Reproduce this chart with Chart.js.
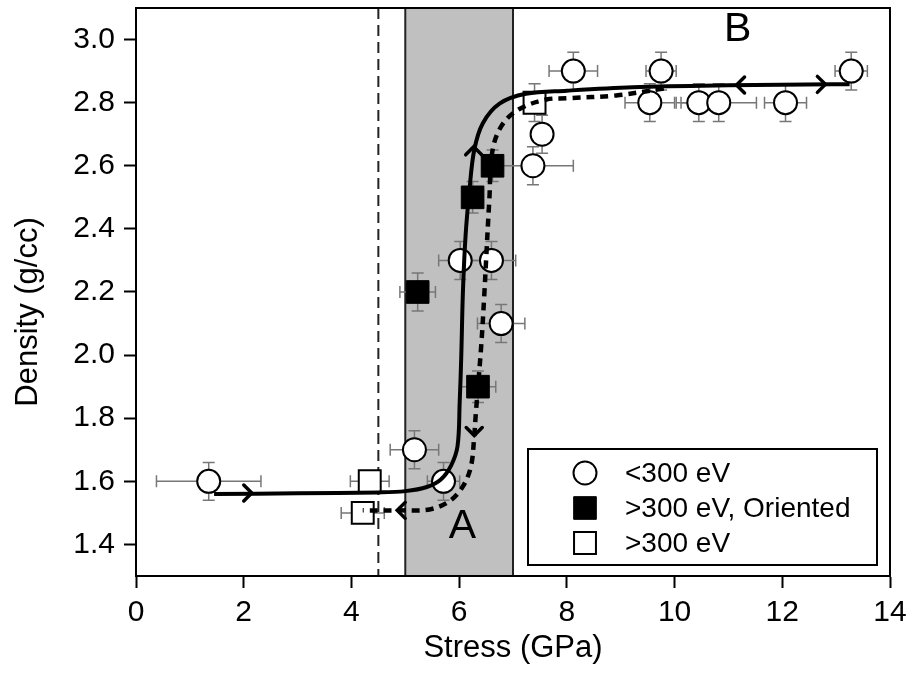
<!DOCTYPE html>
<html>
<head>
<meta charset="utf-8">
<script src="https://cdn.jsdelivr.net/npm/chart.js@4.4.1/dist/chart.umd.min.js"></script>
<style>
  html, body { margin: 0; padding: 0; background: #fff; }
  #wrap { width: 911px; height: 677px; }
</style>
</head>
<body>
<div id="wrap"><canvas id="chart"></canvas></div>
<script>
const xTicks = [0, 2, 4, 6, 8, 10, 12, 14];
const yTicks = [1.4, 1.6, 1.8, 2.0, 2.2, 2.4, 2.6, 2.8, 3.0];

// <300 eV
const lowX    = [1.35, 5.17, 5.71, 6.02, 6.60, 6.78, 7.37, 7.54, 8.12, 9.54, 9.75, 10.45, 10.82, 12.06, 13.28];
const lowY    = [1.60, 1.70, 1.60, 2.30, 2.30, 2.10, 2.60, 2.70, 2.90, 2.80, 2.90, 2.80, 2.80, 2.80, 2.90];
const lowXErr = [0.97, 0.45, 0.30, 0.40, 0.45, 0.44, 0.75, 0.10, 0.45, 0.46, 0.28, 0.42, 0.70, 0.39, 0.30];
const lowYErr = [0.06, 0.06, 0.06, 0.06, 0.06, 0.06, 0.06, 0.06, 0.06, 0.06, 0.06, 0.06, 0.06, 0.06, 0.06];

// >300 eV, oriented
const oriX    = [5.23, 6.25, 6.62, 6.35];
const oriY    = [2.20, 2.50, 2.60, 1.90];
const oriXErr = [0.33, 0.15, 0.20, 0.33];
const oriYErr = [0.06, 0.05, 0.05, 0.05];

// >300 eV
const highX    = [4.21, 4.34, 7.40];
const highY    = [1.50, 1.60, 2.80];
const highXErr = [0.40, 0.36, 0.20];
const highYErr = [0.00, 0.00, 0.06];

// loading path (solid)
const loadX = [1.45, 3.0, 4.5, 5.0, 5.4, 5.66, 5.85, 5.97, 6.01, 6.04, 6.07, 6.12, 6.19, 6.28, 6.44, 6.75, 7.24, 8.0, 9.22, 11.0, 12.94, 13.25];
const loadY = [1.560, 1.562, 1.565, 1.569, 1.582, 1.606, 1.65, 1.711, 1.85, 2.0, 2.2, 2.38, 2.52, 2.65, 2.735, 2.797, 2.828, 2.838, 2.849, 2.855, 2.858, 2.858];

// unloading path (dashed)
const unloadX = [9.8, 8.92, 7.99, 7.62, 7.12, 6.80, 6.62, 6.56, 6.50, 6.47, 6.41, 6.31, 6.28, 6.22, 6.07, 5.82, 5.45, 4.83, 4.21];
const unloadY = [2.845, 2.823, 2.814, 2.81, 2.78, 2.73, 2.649, 2.49, 2.30, 2.20, 2.03, 1.816, 1.743, 1.648, 1.584, 1.537, 1.511, 1.508, 1.508];

// direction arrows along the paths
const arrowX   = [2.15, 6.27, 12.8, 11.15, 6.28, 4.85];
const arrowY   = [1.563, 2.66, 2.858, 2.856, 1.745, 1.508];
const arrowDir = ['right', 'up', 'right', 'left', 'down', 'left'];

const bandFrom = 5, bandTo = 7, guideX = 4.5;
const FONT = '"Liberation Sans", Arial, Helvetica, sans-serif';

const pts = (xs, ys) => xs.map((x, i) => ({ x, y: ys[i] }));

const decor = {
  id: 'decor',
  beforeDatasetsDraw(chart) {
    const { ctx, chartArea: a, scales: { x, y } } = chart;
    ctx.save();
    // shaded transition band
    const b0 = x.getPixelForValue(bandFrom), b1 = x.getPixelForValue(bandTo);
    ctx.fillStyle = '#c0c0c0';
    ctx.fillRect(b0, a.top, b1 - b0, a.bottom - a.top);
    ctx.strokeStyle = '#222';
    ctx.lineWidth = 2;
    ctx.strokeRect(b0, a.top, b1 - b0, a.bottom - a.top);
    // dashed guide
    const gx = x.getPixelForValue(guideX);
    ctx.setLineDash([11, 6]);
    ctx.beginPath(); ctx.moveTo(gx, a.top); ctx.lineTo(gx, a.bottom); ctx.stroke();
    ctx.setLineDash([]);
    // error bars
    ctx.strokeStyle = '#777';
    ctx.lineWidth = 1.5;
    const cap = 6;
    chart.data.datasets.forEach(ds => {
      if (!ds.xErr) return;
      ds.data.forEach((p, i) => {
        const px = x.getPixelForValue(p.x), py = y.getPixelForValue(p.y);
        const ex = ds.xErr[i], ey = ds.yErr[i];
        if (ex > 0) {
          const l = x.getPixelForValue(p.x - ex), r = x.getPixelForValue(p.x + ex);
          ctx.beginPath();
          ctx.moveTo(l, py); ctx.lineTo(r, py);
          ctx.moveTo(l, py - cap); ctx.lineTo(l, py + cap);
          ctx.moveTo(r, py - cap); ctx.lineTo(r, py + cap);
          ctx.stroke();
        }
        if (ey > 0) {
          const t = y.getPixelForValue(p.y + ey), bt = y.getPixelForValue(p.y - ey);
          ctx.beginPath();
          ctx.moveTo(px, t); ctx.lineTo(px, bt);
          ctx.moveTo(px - cap, t); ctx.lineTo(px + cap, t);
          ctx.moveTo(px - cap, bt); ctx.lineTo(px + cap, bt);
          ctx.stroke();
        }
      });
    });
    ctx.restore();
  },
  afterDatasetsDraw(chart) {
    const { ctx, chartArea: a, scales: { x, y } } = chart;
    ctx.save();
    // arrow heads
    ctx.strokeStyle = '#000';
    ctx.lineWidth = 3.5;
    ctx.lineCap = 'round';
    const s = 8;
    arrowX.forEach((ax, i) => {
      const px = x.getPixelForValue(ax), py = y.getPixelForValue(arrowY[i]);
      ctx.beginPath();
      switch (arrowDir[i]) {
        case 'right': ctx.moveTo(px - s, py - s); ctx.lineTo(px, py); ctx.lineTo(px - s, py + s); break;
        case 'left':  ctx.moveTo(px + s, py - s); ctx.lineTo(px, py); ctx.lineTo(px + s, py + s); break;
        case 'up':    ctx.moveTo(px - s, py + s); ctx.lineTo(px, py); ctx.lineTo(px + s, py + s); break;
        case 'down':  ctx.moveTo(px - s, py - s); ctx.lineTo(px, py); ctx.lineTo(px + s, py - s); break;
      }
      ctx.stroke();
    });
    // region labels
    ctx.fillStyle = '#000';
    ctx.font = `41px ${FONT}`;
    ctx.textAlign = 'center';
    ctx.textBaseline = 'middle';
    ctx.fillText('A', x.getPixelForValue(6.06), y.getPixelForValue(1.455));
    ctx.fillText('B', x.getPixelForValue(11.17), y.getPixelForValue(3.03));
    // frame
    ctx.strokeStyle = '#000';
    ctx.lineWidth = 2;
    ctx.strokeRect(a.left, a.top, a.right - a.left, a.bottom - a.top);
    ctx.restore();
  },
  afterDraw(chart) {
    const { ctx, chartArea: a } = chart;
    ctx.save();
    // axis titles
    ctx.fillStyle = '#000';
    ctx.font = `31px ${FONT}`;
    ctx.textAlign = 'center';
    ctx.textBaseline = 'middle';
    ctx.fillText('Stress (GPa)', (a.left + a.right) / 2, 648);
    ctx.translate(28, 312);
    ctx.rotate(-Math.PI / 2);
    ctx.fillText('Density (g/cc)', 0, 0);
    ctx.restore();

    // legend box
    ctx.save();
    const w = 349, h = 116;
    const lx = a.right - 13 - w, ly = a.bottom - 11 - h;
    ctx.fillStyle = '#fff';
    ctx.fillRect(lx, ly, w, h);
    ctx.strokeStyle = '#000';
    ctx.lineWidth = 2;
    ctx.strokeRect(lx, ly, w, h);
    ctx.font = `28px ${FONT}`;
    ctx.textBaseline = 'middle';
    ctx.textAlign = 'left';
    const marks = chart.data.datasets.filter(ds => ds.label);
    marks.forEach((ds, i) => {
      const cy = ly + 24 + i * 35, cx = lx + 57;
      ctx.fillStyle = ds.backgroundColor;
      ctx.strokeStyle = ds.borderColor;
      ctx.lineWidth = ds.borderWidth;
      Chart.helpers.drawPoint(ctx, {
        pointStyle: ds.pointStyle, radius: ds.pointRadius,
        borderWidth: ds.borderWidth
      }, cx, cy);
      ctx.fillStyle = '#000';
      ctx.fillText(ds.label, lx + 97, cy + 1);
    });
    ctx.restore();
  }
};

new Chart(document.getElementById('chart'), {
  type: 'scatter',
  data: {
    datasets: [
      { data: pts(loadX, loadY), showLine: true, borderColor: '#000', borderWidth: 4,
        pointRadius: 0, tension: 0.35, order: 0 },
      { data: pts(unloadX, unloadY), showLine: true, borderColor: '#000', borderWidth: 4.5,
        borderDash: [8, 6], pointRadius: 0, tension: 0.35, order: 0 },
      { label: '<300 eV', data: pts(lowX, lowY), xErr: lowXErr, yErr: lowYErr,
        pointStyle: 'circle', pointRadius: 11.5, backgroundColor: '#fff', borderColor: '#000',
        borderWidth: 2, order: 1 },
      { label: '>300 eV, Oriented', data: pts(oriX, oriY), xErr: oriXErr, yErr: oriYErr,
        pointStyle: 'rect', pointRadius: 16, backgroundColor: '#000', borderColor: '#000',
        borderWidth: 1, order: 1 },
      { label: '>300 eV', data: pts(highX, highY), xErr: highXErr, yErr: highYErr,
        pointStyle: 'rect', pointRadius: 15.5, backgroundColor: '#fff', borderColor: '#000',
        borderWidth: 2, order: 1 }
    ]
  },
  options: {
    responsive: true,
    maintainAspectRatio: false,
    animation: false,
    events: [],
    // fixed frame: 136..890 across, 8..576 down
    layout: { autoPadding: false, padding: { top: 8, right: 21, left: 0, bottom: 0 } },
    plugins: { legend: { display: false }, tooltip: { enabled: false } },
    scales: {
      x: {
        type: 'linear', min: 0, max: 14,
        afterBuildTicks: s => { s.ticks = xTicks.map(v => ({ value: v })); },
        afterFit: s => { s.height = 101; s.paddingLeft = 0; s.paddingRight = 0; },
        grid: { drawOnChartArea: false, tickLength: 12, tickWidth: 2, color: '#000' },
        border: { color: '#000', width: 2 },
        ticks: { color: '#000', padding: 7, font: { family: FONT, size: 30 }, maxRotation: 0 }
      },
      y: {
        type: 'linear', min: 1.3, max: 3.1,
        afterBuildTicks: s => { s.ticks = yTicks.map(v => ({ value: v })); },
        afterFit: s => { s.width = 136; s.paddingTop = 0; s.paddingBottom = 0; },
        grid: { drawOnChartArea: false, tickLength: 12, tickWidth: 2, color: '#000' },
        border: { color: '#000', width: 2 },
        ticks: { color: '#000', padding: 9, font: { family: FONT, size: 30 },
                 callback: v => v.toFixed(1) }
      }
    }
  },
  plugins: [decor]
});
</script>
</body>
</html>
